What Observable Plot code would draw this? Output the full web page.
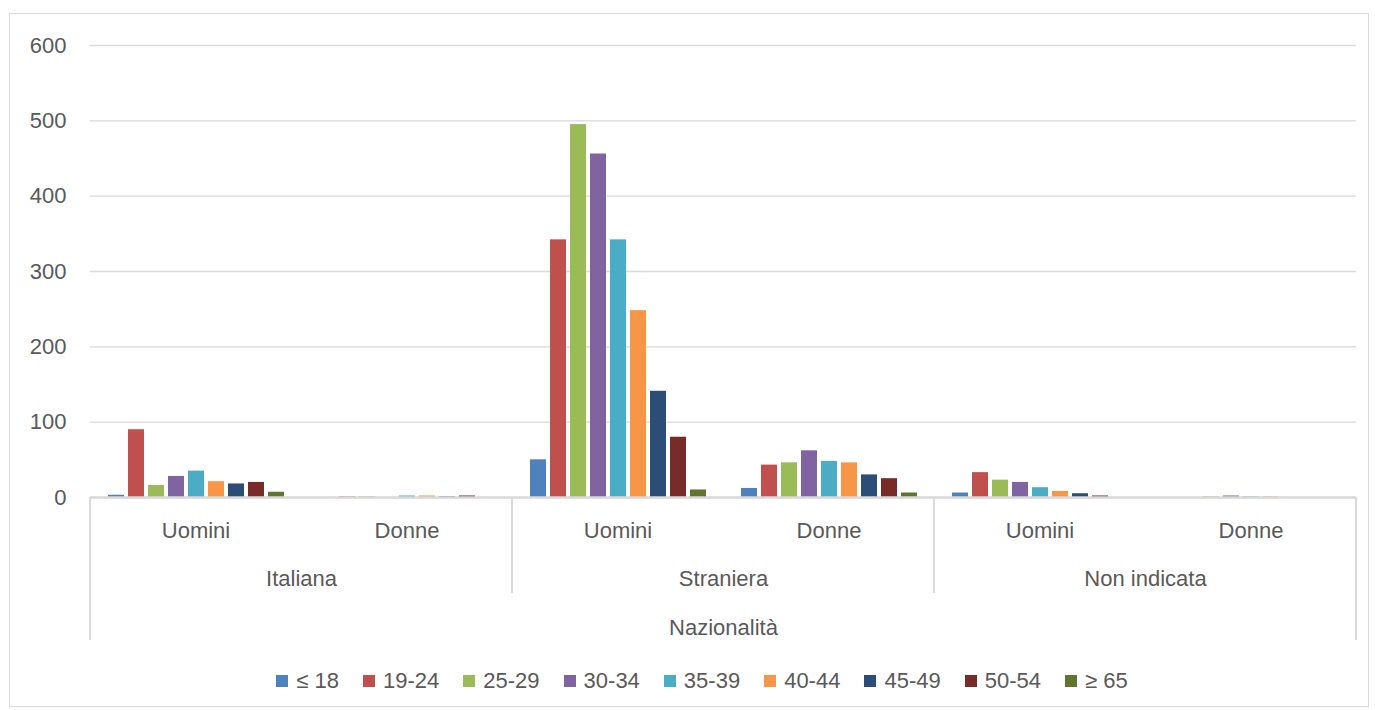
<!DOCTYPE html>
<html>
<head>
<meta charset="utf-8">
<script src="https://cdn.jsdelivr.net/npm/d3@7"></script>
<script src="https://cdn.jsdelivr.net/npm/@observablehq/plot@0.6"></script>
<style>
  body { margin: 0; background: #fff; font-family: "Liberation Sans", Arial, sans-serif; }
  #chart { position: absolute; left: 9px; top: 13px; width: 1360px; height: 694px; border: 1px solid #d9d9d9; box-sizing: border-box; }
  #legend { position: absolute; left: 0; width: 100%; top: 654px; display: flex; justify-content: center; gap: 24px; font-size: 22px; color: #595959; padding-left: 26px; box-sizing: border-box; }
  .item { display: flex; align-items: center; gap: 8px; }
  .sw { width: 12px; height: 12px; display: inline-block; }
</style>
</head>
<body>
<div id="chart"></div>
<script>
const nations = ["Italiana", "Straniera", "Non indicata"];
const sexes = ["Uomini", "Donne"];
const ages = ["≤ 18", "19-24", "25-29", "30-34", "35-39", "40-44", "45-49", "50-54", "≥ 65"];
const colors = ["#4f81bd", "#c0504d", "#9bbb59", "#8064a2", "#4bacc6", "#f79646", "#2c4d75", "#772c2a", "#5f7530"];
const italianaUomini = [3, 90, 16, 28, 35, 21, 18, 20, 7];
const italianaDonne = [0, 1, 1, 0, 2, 2, 1, 2, 0];
const stranieraUomini = [50, 342, 495, 456, 342, 248, 141, 80, 10];
const stranieraDonne = [12, 43, 46, 62, 48, 46, 30, 25, 6];
const nonIndicataUomini = [6, 33, 23, 20, 13, 8, 5, 2, 0];
const nonIndicataDonne = [0, 0, 1, 2, 1, 1, 0, 0, 0];
const yTicks = [0, 100, 200, 300, 400, 500, 600];
const axisTitle = "Nazionalità";

const series = {
  "Italiana|Uomini": italianaUomini, "Italiana|Donne": italianaDonne,
  "Straniera|Uomini": stranieraUomini, "Straniera|Donne": stranieraDonne,
  "Non indicata|Uomini": nonIndicataUomini, "Non indicata|Donne": nonIndicataDonne
};
const keys = [];
nations.forEach(n => sexes.forEach(s => keys.push(n + "|" + s)));
const data = [];
keys.forEach(k => ages.forEach((a, i) => data.push({key: k, age: a, value: series[k][i]})));
const nationData = nations.map(n => ({nation: n, key: n + "|Uomini"}));

const textColor = "#595959";
const plot = Plot.plot({
  width: 1358,
  height: 640,
  marginLeft: 80,
  marginRight: 12,
  marginTop: 31,
  marginBottom: 157,
  style: {fontFamily: "'Liberation Sans', Arial, sans-serif", fontSize: "22px", color: textColor, background: "transparent", overflow: "visible"},
  fx: {domain: keys, padding: 0, label: null, axis: null},
  x: {domain: ages, paddingInner: 0.2, paddingOuter: 0.78, axis: null},
  y: {domain: [0, 600], axis: null},
  color: {domain: ages, range: colors},
  marks: [
    Plot.gridY(yTicks, {stroke: "#d9d9d9", strokeOpacity: 1, strokeWidth: 1.3}),
    Plot.axisY(yTicks, {tickSize: 0, tickPadding: 24, label: null, fill: textColor}),
    Plot.axisFx({anchor: "bottom", tickSize: 0, tickPadding: 25, label: null, tickFormat: d => d.split("|")[1], fill: textColor}),
    Plot.barY(data, {fx: "key", x: "age", y: "value", fill: "age"}),
    Plot.ruleY([0], {stroke: "#d9d9d9", strokeWidth: 2.5}),
    Plot.text(nationData, {fx: "key", text: "nation", frameAnchor: "bottom-right", textAnchor: "middle", lineAnchor: "middle", dy: 81, fill: textColor}),
    Plot.text([axisTitle], {fx: () => "Straniera|Uomini", text: d => d, frameAnchor: "bottom-right", textAnchor: "middle", lineAnchor: "middle", dy: 130, fill: textColor})
  ]
});
document.getElementById("chart").appendChild(plot);
plot.style.position = "absolute";
plot.style.left = "0px";
plot.style.top = "0px";

// hierarchical category separators, positioned with the library's scales
const fxS = plot.scale("fx");
const yS = plot.scale("y");
const y0 = yS.apply(0);
const sepLines = [
  {x: fxS.apply("Italiana|Uomini"), len: 143},
  {x: fxS.apply("Straniera|Uomini"), len: 96},
  {x: fxS.apply("Non indicata|Uomini"), len: 96},
  {x: fxS.apply("Non indicata|Donne") + fxS.bandwidth, len: 143}
];
d3.select(plot).append("g").selectAll("line").data(sepLines).join("line")
  .attr("x1", d => d.x).attr("x2", d => d.x)
  .attr("y1", y0).attr("y2", d => y0 + d.len)
  .attr("stroke", "#d9d9d9").attr("stroke-width", 2);

const legend = document.createElement("div");
legend.id = "legend";
ages.forEach((a, i) => {
  const it = document.createElement("div");
  it.className = "item";
  it.innerHTML = `<span class="sw" style="background:${colors[i]}"></span><span>${a}</span>`;
  legend.appendChild(it);
});
document.getElementById("chart").appendChild(legend);
</script>
</body>
</html>
